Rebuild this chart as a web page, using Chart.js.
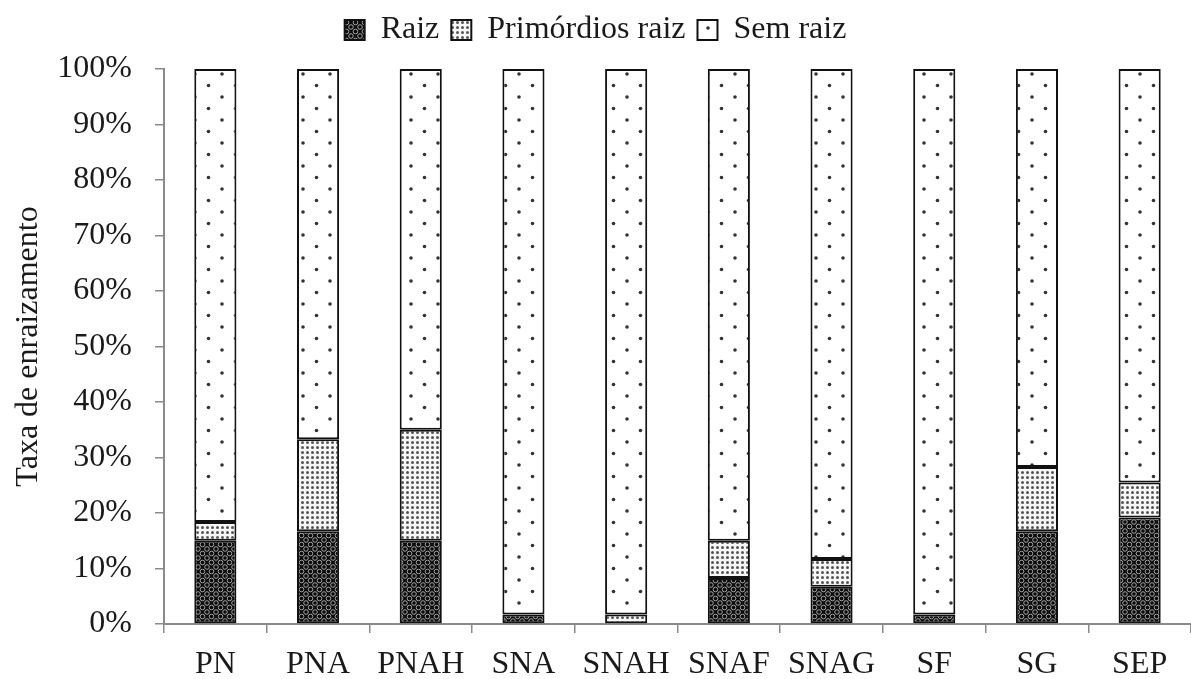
<!DOCTYPE html>
<html>
<head>
<meta charset="utf-8">
<script src="https://cdn.jsdelivr.net/npm/chart.js@4/dist/chart.umd.min.js"></script>
<style>
html, body { margin: 0; padding: 0; background: #fff; }
</style>
</head>
<body>
<canvas id="graficoEnraizamento" width="1191" height="679"></canvas>
<script>
const tratamentos = ['PN', 'PNA', 'PNAH', 'SNA', 'SNAH', 'SNAF', 'SNAG', 'SF', 'SG', 'SEP'];
const raiz = [15, 16.7, 15, 1.7, null, 8.3, 6.7, 1.7, 16.7, 19.2];
const primordios = [3.4, 16.6, 20, null, 1.7, 6.7, 5, null, 11.6, 6.3];
const semRaiz = [81.6, 66.7, 65, 98.3, 98.3, 85, 88.3, 98.3, 71.7, 74.5];
const ticksY = [0, 10, 20, 30, 40, 50, 60, 70, 80, 90, 100];

// hachuras
function padrao(w, h, desenha) {
    const c = document.createElement('canvas');
    c.width = w; c.height = h;
    const g = c.getContext('2d');
    desenha(g);
    return g.createPattern(c, 'repeat');
}

const ctx = document.getElementById('graficoEnraizamento').getContext('2d');

const padraoRaiz = padrao(9, 9, g => {
    g.fillStyle = '#0c0c0c';
    g.fillRect(0, 0, 9, 9);
    g.strokeStyle = '#c4c4c4';
    g.lineWidth = 0.8;
    [[0, 0], [9, 0], [0, 9], [9, 9], [4.5, 4.5]].forEach(([x, y]) => {
        g.beginPath();
        g.arc(x, y, 2.3, 0, Math.PI * 2);
        g.stroke();
    });
});

const padraoPrimordios = padrao(5, 5, g => {
    g.fillStyle = '#f6f6f6';
    g.fillRect(0, 0, 5, 5);
    g.fillStyle = '#555';
    g.beginPath();
    g.arc(2.5, 2.5, 1.5, 0, Math.PI * 2);
    g.fill();
});

const padraoSemRaiz = padrao(27, 23, g => {
    g.fillStyle = '#ffffff';
    g.fillRect(0, 0, 27, 23);
    g.fillStyle = '#333';
    [[6, 5], [19.5, 16.5]].forEach(([x, y]) => {
        g.beginPath();
        g.arc(x, y, 1.8, 0, Math.PI * 2);
        g.fill();
    });
});

// espaço extra entre a legenda e a área do gráfico
const espacoLegenda = {
    id: 'espacoLegenda',
    beforeLayout(chart) {
        const lg = chart.legend;
        if (lg && !lg._ajustado) {
            const fitOrig = lg.fit.bind(lg);
            lg.fit = function () { fitOrig(); this.height += 13; };
            lg._ajustado = true;
        }
    }
};

Chart.defaults.font.family = "'Liberation Serif', 'DejaVu Serif', serif";
Chart.defaults.font.size = 32;
Chart.defaults.color = '#1a1a1a';

new Chart(ctx, {
    type: 'bar',
    data: {
        labels: tratamentos,
        datasets: [
            {
                label: 'Raiz',
                data: raiz,
                backgroundColor: padraoRaiz
            },
            {
                label: 'Primórdios raiz',
                data: primordios,
                backgroundColor: padraoPrimordios
            },
            {
                label: 'Sem raiz',
                data: semRaiz,
                backgroundColor: padraoSemRaiz
            }
        ]
    },
    plugins: [espacoLegenda],
    options: {
        responsive: false,
        animation: false,
        layout: {
            padding: { top: 2, right: 0, left: 0, bottom: 0 }
        },
        datasets: {
            bar: {
                borderColor: '#111',
                borderWidth: 2,
                borderSkipped: false,
                categoryPercentage: 1,
                barPercentage: 0.41
            }
        },
        plugins: {
            legend: {
                position: 'top',
                labels: {
                    boxWidth: 20,
                    boxHeight: 20,
                    padding: 12,
                    font: { size: 32 }
                }
            },
            tooltip: { enabled: false }
        },
        scales: {
            x: {
                stacked: true,
                afterFit: s => { s.height = 55; },
                border: { color: '#8a8a8a', width: 2 },
                grid: {
                    drawOnChartArea: false,
                    tickLength: 9,
                    color: '#8a8a8a',
                    lineWidth: 1.5
                },
                ticks: { padding: 12, maxRotation: 0, autoSkip: false }
            },
            y: {
                stacked: true,
                min: 0,
                max: 100,
                afterFit: s => { s.width = 164; },
                afterBuildTicks: s => { s.ticks = ticksY.map(v => ({ value: v })); },
                border: { color: '#8a8a8a', width: 2 },
                grid: {
                    drawOnChartArea: false,
                    tickLength: 9,
                    color: '#8a8a8a',
                    lineWidth: 1.5
                },
                ticks: {
                    padding: 23,
                    callback: v => v + '%'
                },
                title: {
                    display: true,
                    text: 'Taxa de enraizamento',
                    padding: { top: 9, bottom: 0 }
                }
            }
        }
    }
});
</script>
</body>
</html>
